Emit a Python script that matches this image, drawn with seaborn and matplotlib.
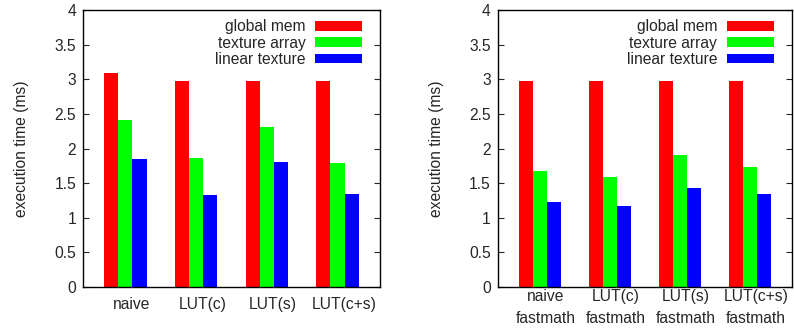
import matplotlib
matplotlib.use("Agg")
import matplotlib.pyplot as plt
import pandas as pd
import seaborn as sns

kernels = ["naive", "LUT(c)", "LUT(s)", "LUT(c+s)"]
kernels_fast = ["naive\nfastmath", "LUT(c)\nfastmath", "LUT(s)\nfastmath", "LUT(c+s)\nfastmath"]
impls = ["global mem", "texture array", "linear texture"]
colors = ["#ff0000", "#00ff00", "#0000ff"]

# execution time (ms)
left_global = [3.09, 2.97, 2.98, 2.97]
left_texarray = [2.41, 1.87, 2.31, 1.79]
left_linear = [1.85, 1.33, 1.80, 1.35]

right_global = [2.97, 2.97, 2.97, 2.97]
right_texarray = [1.68, 1.59, 1.90, 1.74]
right_linear = [1.23, 1.17, 1.43, 1.34]


def make_df(labels, g, t, l):
    rows = []
    for name, vals in zip(impls, [g, t, l]):
        for k, v in zip(labels, vals):
            rows.append({"kernel": k, "impl": name, "time": v})
    return pd.DataFrame(rows)


sns.set_style("ticks")
plt.rcParams["font.family"] = ["Liberation Sans", "DejaVu Sans"]
plt.rcParams["font.size"] = 11.25

fig = plt.figure(figsize=(7.94, 3.31), dpi=100)
ax1 = fig.add_axes([0.1045, 0.1329, 0.374, 0.8369])
ax2 = fig.add_axes([0.6268, 0.1329, 0.3703, 0.8369])

panels = [
    (ax1, make_df(kernels, left_global, left_texarray, left_linear), kernels, 7, 1.0),
    (ax2, make_df(kernels_fast, right_global, right_texarray, right_linear), kernels_fast, 1.5, 1.55),
]

for ax, df, labels, xpad, lsp in panels:
    sns.barplot(data=df, x="kernel", y="time", hue="impl", order=labels,
                hue_order=impls, palette=colors, width=0.6, saturation=1,
                linewidth=0, ax=ax)
    ax.set_xlim(-0.6, 3.6)
    ax.set_ylim(0, 4)
    ax.set_yticks([0, 0.5, 1, 1.5, 2, 2.5, 3, 3.5, 4])
    ax.set_yticklabels(["0", "0.5", "1", "1.5", "2", "2.5", "3", "3.5", "4"])
    ax.set_xticks([i + 0.09 for i in range(4)])
    ax.set_xticklabels(labels, linespacing=lsp)
    ax.tick_params(axis="y", direction="in", length=4, right=True, width=0.8, pad=5)
    ax.tick_params(axis="x", length=0, pad=xpad)
    ax.set_xlabel("")
    ax.set_ylabel("execution time (ms)", labelpad=18)
    for s in ax.spines.values():
        s.set_visible(True)
        s.set_linewidth(1)
        s.set_color("black")
    ax.legend(loc="upper right", bbox_to_anchor=(0.97, 1.0), frameon=False,
              markerfirst=False, handlelength=3.0, handleheight=0.55,
              labelspacing=0.08, handletextpad=0.6, borderaxespad=0.2,
              fontsize=11.25)

fig.savefig("out.png", dpi=100)
